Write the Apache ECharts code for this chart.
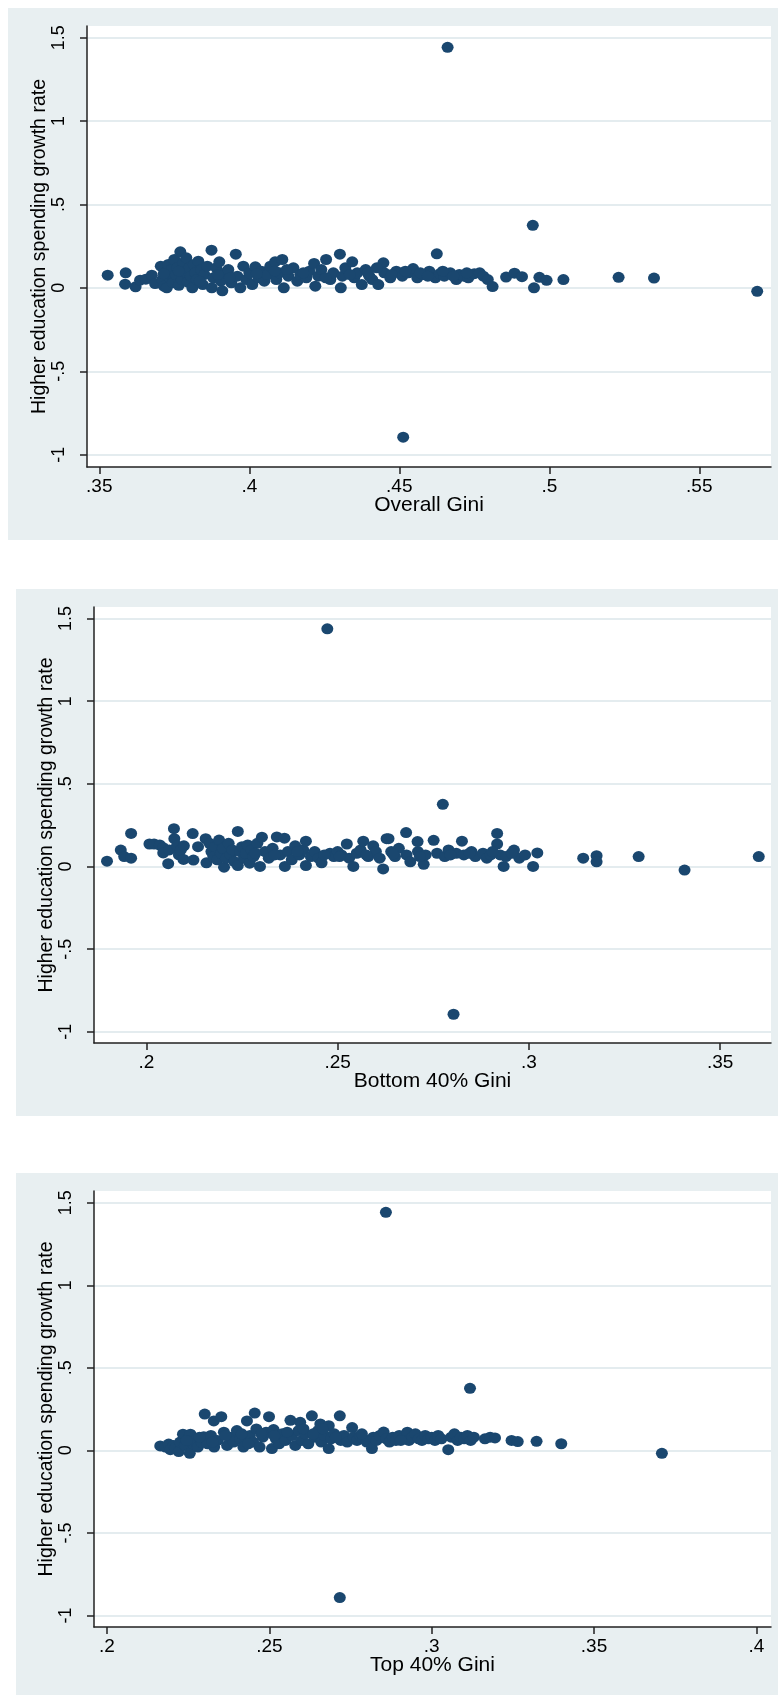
<!DOCTYPE html>
<html>
<head>
<meta charset="utf-8">
<script src="https://cdn.jsdelivr.net/npm/echarts@6/dist/echarts.min.js"></script>
<style>
html,body{margin:0;padding:0;background:#fff;}
#c{width:778px;height:1695px;}
</style>
</head>
<body>
<div id="c"></div>
<script>
// ---- Data ----
const yTitle = 'Higher education spending growth rate';
const xTitles = ['Overall Gini', 'Bottom 40% Gini', 'Top 40% Gini'];

const yTickValues = [-1, -0.5, 0, 0.5, 1, 1.5];
const yTickLabels = ['-1', '-.5', '0', '.5', '1', '1.5'];

const xTickValues1 = [0.35, 0.4, 0.45, 0.5, 0.55];
const xTickLabels1 = ['.35', '.4', '.45', '.5', '.55'];
const xTickValues2 = [0.2, 0.25, 0.3, 0.35];
const xTickLabels2 = ['.2', '.25', '.3', '.35'];
const xTickValues3 = [0.2, 0.25, 0.3, 0.35, 0.4];
const xTickLabels3 = ['.2', '.25', '.3', '.35', '.4'];

// Overall Gini vs growth rate
const overallGini = [
[.3528,.076],[.3588,.09],[.3586,.022],[.3621,.006],[.3636,.046],[.3655,.052],[.3675,.076],[.3686,.026],
[.3705,.13],[.371,.05],[.3715,.01],[.372,.09],[.3725,.0],[.373,.14],[.3735,.06],[.374,.11],[.3745,.03],
[.375,.17],[.3755,.08],[.376,.12],[.3765,.015],[.377,.216],[.3775,.05],[.378,.15],[.3785,.095],[.379,.18],
[.3795,.035],[.38,.12],[.3805,.07],[.381,.0],[.3815,.14],[.382,.09],[.3825,.05],[.383,.16],[.384,.11],
[.3845,.02],[.385,.08],[.386,.13],[.3874,.226],[.3875,.0],[.388,.06],[.389,.12],[.39,.156],[.3905,.04],
[.391,-.018],[.392,.09],[.393,.11],[.394,.03],[.3955,.202],[.396,.07],[.397,.0],[.398,.13],[.399,.05],
[.4,.09],[.401,.02],[.402,.126],[.403,.06],[.404,.1],[.405,.04],[.406,.08],[.407,.13],[.4086,.156],
[.409,.05],[.41,.09],[.411,.17],[.4115,.0],[.413,.07],[.4147,.12],[.416,.04],[.417,.08],[.419,.06],
[.42,.1],[.4216,.146],[.422,.01],[.423,.07],[.424,.11],[.4256,.17],[.427,.05],[.428,.09],[.4302,.202],
[.4305,.0],[.431,.07],[.432,.12],[.4343,.156],[.435,.06],[.436,.09],[.4375,.02],[.4388,.11],[.44,.07],
[.441,.05],[.443,.02],[.4447,.15],[.445,.09],[.447,.06],[.449,.1],[.451,.07],[.4513,-.895],[.453,.09],
[.4546,.116],[.456,.06],[.458,.08],[.46,.1],[.4625,.204],[.462,.06],[.4635,.085],[.465,.07],[.4661,1.442],
[.467,.09],[.469,.05],[.47,.08],[.4715,.07],[.473,.06],[.475,.085],[.4768,.09],[.478,.07],[.4795,.05],
[.4811,.008],[.4856,.065],[.4884,.088],[.4909,.067],[.4945,.375],[.4949,.0],[.4967,.063],[.4991,.045],
[.5047,.05],[.5231,.063],[.5349,.059],[.5693,-.021],
[.3715,.085],[.3765,.1],[.3835,.04],[.3895,.08],[.3935,.06],[.4025,.085],[.4085,.1],[.4125,.11],
[.418,.09],[.4255,.06],[.4335,.08],[.4395,.09],[.4425,.12],[.4475,.08],[.452,.1],[.457,.09],[.4595,.07],
[.4645,.1],[.468,.07],[.4725,.09]
];

// Bottom 40% Gini vs growth rate
const bottomGini = [
[.1897,.032],[.1933,.099],[.1942,.06],[.196,.05],[.196,.20],[.2008,.136],[.202,.136],[.2035,.13],
[.2044,.114],[.2044,.082],[.2057,.017],[.206,.10],[.2072,.229],[.2073,.168],[.208,.125],[.2085,.07],
[.209,.10],[.2097,.043],[.2098,.125],[.2121,.199],[.2123,.039],[.2135,.12],[.2155,.168],[.2157,.022],
[.2165,.14],[.217,.09],[.2175,.06],[.218,.12],[.2185,.04],[.219,.16],[.2195,.08],[.22,.11],[.2203,-.004],
[.2208,.05],[.2215,.14],[.222,.07],[.2225,.10],[.223,.03],[.2239,.212],[.2239,.006],[.2245,.09],[.225,.12],
[.2255,.05],[.226,.08],[.2265,.13],[.227,.02],[.2275,.10],[.228,.06],[.229,.14],[.2297,.0],[.2302,.177],
[.231,.09],[.232,.05],[.233,.11],[.2341,.179],[.235,.07],[.2361,.171],[.2362,.0],[.237,.09],[.238,.04],
[.2389,.125],[.24,.07],[.241,.1],[.2417,.153],[.2417,.006],[.243,.06],[.244,.09],[.245,.05],[.2458,.022],
[.2473,1.438],[.248,.08],[.249,.06],[.25,.09],[.251,.07],[.2524,.136],[.253,.05],[.2541,.0],[.255,.08],
[.256,.1],[.2567,.153],[.258,.06],[.2593,.125],[.26,.09],[.261,.05],[.2619,-.015],[.2628,.168],[.2633,.168],
[.264,.09],[.265,.06],[.266,.11],[.2679,.205],[.268,.07],[.269,.028],[.2709,.151],[.271,.09],[.2725,.013],
[.273,.07],[.2751,.158],[.276,.08],[.2775,.376],[.278,.06],[.279,.1],[.2803,-.894],[.281,.08],[.2825,.153],
[.283,.07],[.285,.09],[.286,.06],[.288,.08],[.289,.05],[.29,.07],[.2917,.20],[.2917,.136],[.2925,.07],
[.2934,.0],[.294,.06],[.2961,.099],[.2975,.05],[.299,.07],[.3011,.0],[.3022,.082],[.3142,.05],[.3177,.065],
[.3177,.028],[.3287,.06],[.3407,-.022],[.3601,.06],
[.2285,.08],[.2335,.07],[.2395,.09],[.2465,.07],[.2505,.06],[.2575,.07],[.2645,.075],[.2715,.06],
[.2795,.07],[.2845,.08],[.2905,.09],[.2955,.08]
];

// Top 40% Gini vs growth rate
const topGini = [
[.2164,.027],[.218,.02],[.219,.038],[.2195,.004],[.2205,.03],[.221,.015],[.2221,-.007],[.2225,.05],
[.2234,.098],[.224,.03],[.225,.07],[.2255,-.018],[.2257,.098],[.2265,.04],[.227,.06],[.228,.02],[.229,.05],
[.2298,.082],[.2301,.22],[.231,.04],[.232,.09],[.2329,.178],[.233,.02],[.234,.06],[.2352,.204],[.236,.11],
[.237,.03],[.238,.08],[.239,.05],[.24,.12],[.241,.07],[.242,.02],[.2431,.178],[.244,.09],[.245,.05],
[.2455,.226],[.246,.13],[.247,.02],[.248,.08],[.249,.11],[.2499,.204],[.2508,.011],[.2513,.126],[.252,.07],
[.253,.04],[.254,.10],[.255,.06],[.2565,.182],[.257,.09],[.258,.03],[.259,.12],[.2595,.17],[.26,.06],
[.261,.1],[.262,.04],[.2631,.209],[.264,.08],[.265,.12],[.2657,.16],[.266,.05],[.267,.09],[.2683,.149],
[.2683,.011],[.269,.07],[.27,.10],[.2717,.209],[.2717,-.892],[.272,.06],[.273,.09],[.274,.05],[.2755,.138],
[.276,.08],[.277,.06],[.278,.09],[.279,.07],[.28,.05],[.2816,.011],[.282,.08],[.283,.06],[.284,.09],
[.2852,.111],[.2859,1.442],[.286,.07],[.287,.05],[.288,.08],[.289,.06],[.29,.09],[.291,.07],[.2925,.11],
[.293,.06],[.294,.08],[.295,.1],[.296,.07],[.297,.06],[.298,.09],[.299,.07],[.3,.08],[.301,.06],[.302,.09],
[.303,.07],[.3051,.004],[.306,.08],[.307,.1],[.308,.06],[.309,.08],[.31,.07],[.311,.09],[.3118,.376],
[.312,.06],[.313,.08],[.3164,.07],[.318,.08],[.3195,.075],[.3246,.06],[.3265,.053],[.3323,.055],
[.3399,.04],[.3709,-.018],
[.2245,.06],[.2285,.08],[.2325,.05],[.2365,.09],[.2415,.1],[.2435,.04],[.2475,.1],[.2515,.09],[.2555,.11],
[.2605,.13],[.2635,.1],[.2665,.13],[.2705,.08],[.2785,.1],[.2905,.06]
];

// ---- Styling / layout ----
const FONT = "'Liberation Sans', Arial, Helvetica, sans-serif";
const MARKER = '#1a476f';
const PANEL_BG = '#e8eff1';
const GRID_LINE = '#e4ecef';
const AXIS_COLOR = '#222';

function labelFor(values, labels) {
  return function (v) {
    for (let i = 0; i < values.length; i++) {
      if (Math.abs(values[i] - v) < 1e-9) return labels[i];
    }
    return '';
  };
}

const panels = [
  { grid: { left: 87, top: 26, width: 684, height: 441 }, xmin: 0.3459, xmax: 0.5739, ymin: -1.074, ymax: 1.570,
    xv: xTickValues1, xl: xTickLabels1, data: overallGini, bg: { x: 8, y: 8, w: 770, h: 532 } },
  { grid: { left: 94, top: 607, width: 677, height: 436 }, xmin: 0.1863, xmax: 0.3633, ymin: -1.068, ymax: 1.570,
    xv: xTickValues2, xl: xTickLabels2, data: bottomGini, bg: { x: 16, y: 589, w: 762, h: 527 } },
  { grid: { left: 94, top: 1191, width: 677, height: 436 }, xmin: 0.1960, xmax: 0.4045, ymin: -1.070, ymax: 1.571,
    xv: xTickValues3, xl: xTickLabels3, data: topGini, bg: { x: 16, y: 1173, w: 762, h: 530 } }
];

const option = {
  animation: false,
  backgroundColor: '#fff',
  graphic: panels.map(p => ({
    type: 'rect', z: -10, silent: true,
    shape: { x: p.bg.x, y: p.bg.y, width: p.bg.w, height: p.bg.h },
    style: { fill: PANEL_BG }
  })),
  grid: panels.map(p => Object.assign({ show: true, backgroundColor: '#fff', borderWidth: 0, containLabel: false }, p.grid)),
  xAxis: panels.map((p, i) => ({
    type: 'value', gridIndex: i, min: p.xmin, max: p.xmax,
    name: xTitles[i], nameLocation: 'middle', nameGap: 28, nameMoveOverlap: false,
    nameTextStyle: { fontSize: 21, color: '#000', fontFamily: FONT },
    axisLine: { show: true, onZero: false, lineStyle: { color: AXIS_COLOR, width: 1.5 } },
    axisTick: { show: true, length: 7, customValues: p.xv, lineStyle: { color: AXIS_COLOR, width: 1.5 } },
    axisLabel: { customValues: p.xv, formatter: labelFor(p.xv, p.xl), fontSize: 19, color: '#000', margin: 10, fontFamily: FONT },
    splitLine: { show: false }
  })),
  yAxis: panels.map((p, i) => ({
    type: 'value', gridIndex: i, min: p.ymin, max: p.ymax,
    name: yTitle, nameLocation: 'middle', nameGap: 37, nameRotate: 90, nameMoveOverlap: false,
    nameTextStyle: { fontSize: 19.5, color: '#000', fontFamily: FONT },
    axisLine: { show: true, onZero: false, lineStyle: { color: AXIS_COLOR, width: 1.5 } },
    axisTick: { show: true, length: 7, customValues: yTickValues, lineStyle: { color: AXIS_COLOR, width: 1.5 } },
    axisLabel: { customValues: yTickValues, formatter: labelFor(yTickValues, yTickLabels), rotate: 90,
      fontSize: 18, color: '#000', margin: 19, fontFamily: FONT },
    splitLine: { show: true, lineStyle: { color: GRID_LINE, width: 2 } }
  })),
  series: panels.map((p, i) => ({
    type: 'scatter', xAxisIndex: i, yAxisIndex: i,
    data: p.data, symbol: 'circle', symbolSize: [12, 11],
    itemStyle: { color: MARKER, opacity: 1 },
    emphasis: { disabled: true }
  }))
};

const chart = echarts.init(document.getElementById('c'), null, { renderer: 'canvas' });
chart.setOption(option);
</script>
</body>
</html>
